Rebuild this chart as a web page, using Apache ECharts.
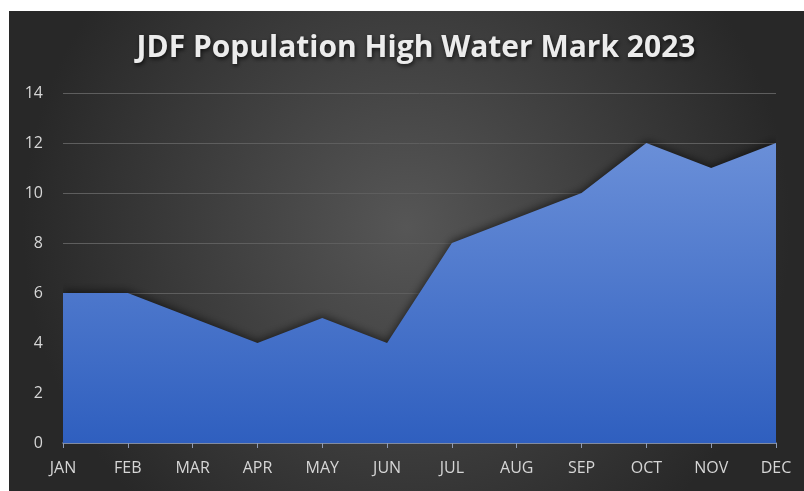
<!DOCTYPE html>
<html>
<head>
    <meta charset="UTF-8">
    <title>JDF Population High Water Mark 2023</title>
    <script src="https://cdn.jsdelivr.net/npm/echarts@6/dist/echarts.min.js"></script>
    <style>
        html, body { margin: 0; padding: 0; background: #fff; }
        #main { width: 804px; height: 491px; }
    </style>
</head>
<body>
<div id="main"></div>
<script>
    // data
    var months = ['JAN', 'FEB', 'MAR', 'APR', 'MAY', 'JUN', 'JUL', 'AUG', 'SEP', 'OCT', 'NOV', 'DEC'];
    var highWater = [6, 6, 5, 4, 5, 4, 8, 9, 10, 12, 11, 12];
    var yMin = 0, yMax = 14, yStep = 2;

    var chart = echarts.init(document.getElementById('main'));
    var option = {
        backgroundColor: '#ffffff',
        animation: false,
        // dark panel with a lighter centre
        graphic: [{
            type: 'rect',
            z: -10,
            left: 9,
            top: 11,
            shape: { width: 795, height: 480 },
            style: {
                fill: {
                    type: 'radial', x: 0.5, y: 0.45, r: 0.8,
                    colorStops: [
                        { offset: 0, color: '#565656' },
                        { offset: 1, color: '#282828' }
                    ]
                }
            }
        }],
        title: {
            text: 'JDF Population High Water Mark 2023',
            left: 411,
            textAlign: 'center',
            top: 28,
            textStyle: {
                color: '#ececec',
                fontFamily: 'Open Sans',
                fontWeight: 'bold',
                fontSize: 30,
                textShadowColor: 'rgba(0,0,0,0.7)',
                textShadowBlur: 4,
                textShadowOffsetX: 1,
                textShadowOffsetY: 2
            }
        },
        grid: { left: 63, right: 28, top: 93, bottom: 48 },
        xAxis: {
            type: 'category',
            data: months,
            boundaryGap: false,
            axisLine: { lineStyle: { color: '#8f9bb5', width: 1.5 } },
            axisTick: { show: true, length: 5, lineStyle: { color: '#8f9bb5' } },
            axisLabel: { color: '#d6d6d6', fontSize: 16, fontFamily: 'Open Sans', margin: 17 },
            splitLine: { show: false }
        },
        yAxis: {
            type: 'value',
            min: yMin,
            max: yMax,
            interval: yStep,
            axisLine: { show: false },
            axisTick: { show: false },
            axisLabel: { color: '#d6d6d6', fontSize: 16, fontFamily: 'Open Sans', margin: 20 },
            splitLine: { lineStyle: { color: '#5e5e5e', width: 1 } }
        },
        series: [{
            type: 'line',
            data: highWater,
            symbol: 'none',
            lineStyle: { width: 0 },
            areaStyle: {
                opacity: 1,
                color: {
                    type: 'linear', x: 0, y: 0, x2: 0, y2: 1,
                    colorStops: [
                        { offset: 0, color: '#6a8fd8' },
                        { offset: 1, color: '#2f5fbf' }
                    ]
                },
                shadowColor: 'rgba(0,0,0,0.55)',
                shadowBlur: 8,
                shadowOffsetY: -2
            }
        }]
    };
    chart.setOption(option);
</script>
</body>
</html>
